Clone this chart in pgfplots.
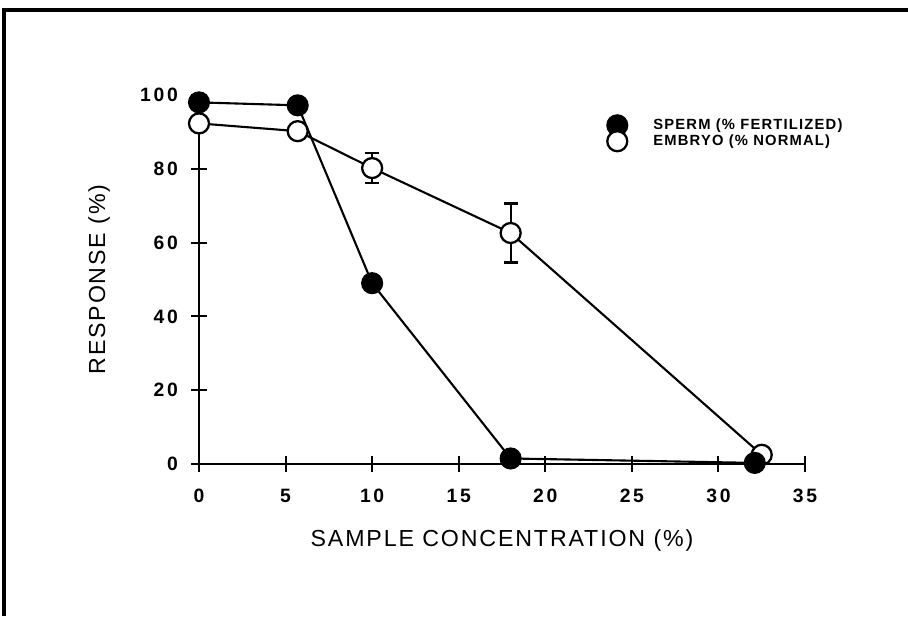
\documentclass[border=0pt]{standalone}
\usepackage{fontspec}
\setmainfont{Liberation Sans}
\newfontfamily\spacedfont[LetterSpace=8]{Liberation Sans}
\newfontfamily\tickfont[LetterSpace=14]{Liberation Sans}
\usepackage{pgfplots}
\pgfplotsset{compat=1.18}

% values
\pgfplotstableread{
x     y
0     98
5.7   97.2
10    49
18    1.5
32.1  0.3
}\sperm
\pgfplotstableread{
x     y     e
0     92.3  0
5.7   90.2  0
10    80.2  4
18    62.6  8
32.5  2.5   0
}\embryo

\begin{document}
\begin{tikzpicture}
% outer frame of the scan (only top and left edges visible)
\path[use as bounding box] (-3.98,-3.04) rectangle (14.18,9.28);
\draw[line width=2.4pt] (-3.90,-3.04) -- (-3.90,9.08) -- (14.18,9.08);

\begin{axis}[
    at={(0,0)}, anchor=origin,
    scale only axis,
    width=12.12cm, height=7.38cm,
    xmin=0, xmax=35, ymin=0, ymax=100,
    axis x line=bottom, axis y line=left,
    axis line style={line width=1.2pt, -},
    xtick={0,5,...,35}, ytick={0,20,...,100},
    tick align=center,
    major tick length=0.32cm,
    tick style={line width=1.1pt, black},
    /pgf/number format/assume math mode=true,
    ticklabel style={font=\tickfont\bfseries\fontsize{11}{12}\selectfont},
    xticklabel style={yshift=-0.22cm},
    yticklabel style={xshift=-0.14cm},
    xlabel={SAMPLE CONCENTRATION (\%)},
    ylabel={RESPONSE (\%)},
    label style={font=\spacedfont\fontsize{13.2}{15}\selectfont},
    xlabel style={at={(axis description cs:0.5,-0.206)}, anchor=center},
    ylabel style={at={(axis description cs:-0.165,0.5)}, anchor=center},
    clip=false,
    reverse legend,
    legend style={draw=none, fill=none, at={(axis cs:23.56,94.6)}, anchor=north west,
        font=\spacedfont\bfseries\fontsize{8.4}{9}\selectfont, row sep=-2.3pt,
        inner sep=0pt, nodes={inner sep=1.5pt}},
    legend cell align=left,
    legend image code/.code={\path[draw=none] (0,0) -- (0.87cm,0);
        \draw[#1] plot coordinates {(0.2cm,0cm)};},
]
\addplot[line width=1.2pt, black, mark=*, mark size=0.2cm,
    mark options={fill=white, line width=1.3pt},
    error bars/.cd, y dir=both, y explicit,
    error mark options={rotate=90, mark size=0.14cm, line width=1.3pt},
    error bar style={line width=1.3pt}]
    table[x=x, y=y, y error=e] {\embryo};
\addlegendentry{EMBRYO (\% NORMAL)}
\addplot[line width=1.2pt, black, mark=*, mark size=0.2cm,
    mark options={fill=black}]
    table[x=x, y=y] {\sperm};
\addlegendentry{SPERM (\% FERTILIZED)}
\end{axis}
\end{tikzpicture}
\end{document}
